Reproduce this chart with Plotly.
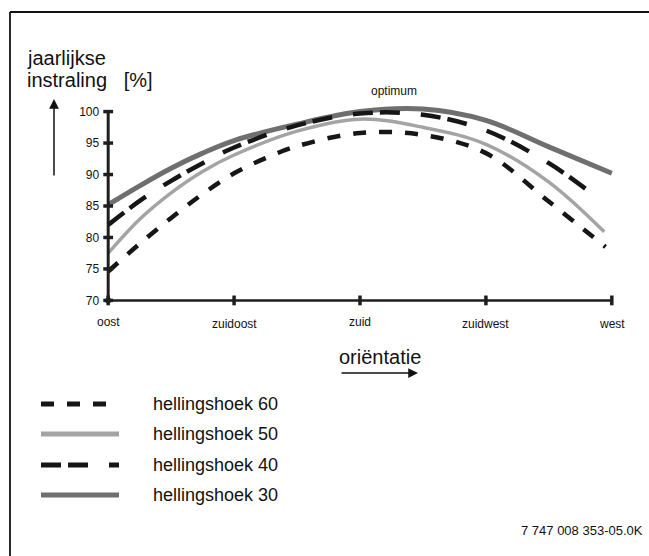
import plotly.graph_objects as go

# ---------------- data ----------------
directions = ["oost", "zuidoost", "zuid", "zuidwest", "west"]
dir_pos = [0, 1, 2, 3, 4]
y_ticks = [70, 75, 80, 85, 90, 95, 100]

x_h60 = [0, 0.25, 0.5, 0.75, 1, 1.25, 1.5, 2, 2.5, 3, 3.5, 3.95]
y_h60 = [74.6, 79.0, 83.1, 86.9, 90.2, 92.6, 94.5, 96.6, 96.3, 93.4, 85.7, 78.5]

x_h50 = [0, 0.25, 0.5, 0.75, 1, 1.5, 2, 2.5, 3, 3.5, 3.94]
y_h50 = [77.5, 82.9, 87.1, 90.5, 93.1, 96.9, 98.8, 97.5, 94.8, 88.8, 80.9]

x_h40 = [0, 0.25, 0.5, 0.75, 1, 1.5, 2, 2.5, 3, 3.5, 3.84]
y_h40 = [82.0, 85.8, 89.0, 91.8, 94.3, 97.8, 99.7, 99.5, 97.0, 91.8, 87.0]

x_h30 = [0, 0.25, 0.5, 0.75, 1, 1.5, 2, 2.5, 3, 3.5, 4]
y_h30 = [85.2, 88.2, 91.0, 93.4, 95.4, 98.0, 100.0, 100.4, 98.6, 94.4, 90.2]

legend_names = ["hellingshoek 60", "hellingshoek 50", "hellingshoek 40", "hellingshoek 30"]

# ---------------- layout geometry ----------------
W, H = 649, 556
ML, MR, MT, MB = 83, 12, 99, 243
XR = [-0.2, 4.2]
YR = [68, 102]
PW, PH = W - ML - MR, H - MT - MB
FONT = "Liberation Sans, Arial, Helvetica, sans-serif"


def px(x):
    return (x - ML) / PW


def py(y):
    return (H - MB - y) / PH


BLACK = "#161616"
LIGHT = "#a4a4a4"
DARK = "#6f6f6f"

styles = {
    "hellingshoek 60": dict(color=BLACK, width=4.5, dash="13px,13px"),
    "hellingshoek 50": dict(color=LIGHT, width=3.5, dash="solid"),
    "hellingshoek 40": dict(color=BLACK, width=4.5, dash="20px,7px,20px,21px"),
    "hellingshoek 30": dict(color=DARK, width=5, dash="solid"),
}

fig = go.Figure()

series = {
    "hellingshoek 30": (x_h30, y_h30),
    "hellingshoek 50": (x_h50, y_h50),
    "hellingshoek 40": (x_h40, y_h40),
    "hellingshoek 60": (x_h60, y_h60),
}
for name, (xs, ys) in series.items():
    fig.add_trace(go.Scatter(
        x=xs, y=ys, mode="lines", name=name, showlegend=False,
        line=dict(shape="spline", smoothing=1.0, **styles[name]),
        hoverinfo="skip",
    ))

# axis lines (data coordinates)
fig.add_shape(type="line", xref="x", yref="y", x0=0, x1=0, y0=min(y_ticks), y1=max(y_ticks),
              line=dict(color="#1e1e1e", width=3))
fig.add_shape(type="line", xref="x", yref="y", x0=min(dir_pos), x1=max(dir_pos), y0=min(y_ticks), y1=min(y_ticks),
              line=dict(color="#1e1e1e", width=2.5))

# tick marks
fig.add_trace(go.Scatter(
    x=[0] * len(y_ticks), y=y_ticks, mode="markers", showlegend=False, hoverinfo="skip",
    marker=dict(symbol="line-ew", size=7, line=dict(color="#1e1e1e", width=3.5)), cliponaxis=False))
fig.add_trace(go.Scatter(
    x=dir_pos, y=[min(y_ticks)] * len(dir_pos), mode="markers", showlegend=False, hoverinfo="skip",
    marker=dict(symbol="line-ns", size=7, line=dict(color="#1e1e1e", width=3.5)), cliponaxis=False))
fig.add_trace(go.Scatter(
    x=[0], y=[min(y_ticks)], mode="markers", showlegend=False, hoverinfo="skip",
    marker=dict(symbol="circle", size=6, color="#1e1e1e"), cliponaxis=False))

annotations = []
# x category labels (staggered as in the reference)
label_shift = [-13, -15, -13, -15, -15]
for pos, lab, sh in zip(dir_pos, directions, label_shift):
    annotations.append(dict(x=pos, y=min(y_ticks), xref="x", yref="y", text=lab, showarrow=False,
                            yanchor="top", xanchor="center", yshift=sh,
                            font=dict(family=FONT, size=12, color="#111")))

# y axis title
annotations.append(dict(x=px(25), y=py(58), xref="paper", yref="paper", text="jaarlijkse",
                        showarrow=False, xanchor="left", yanchor="middle",
                        font=dict(family=FONT, size=20, color="#111")))
annotations.append(dict(x=px(25), y=py(80), xref="paper", yref="paper", text="instraling&nbsp;&nbsp; [%]",
                        showarrow=False, xanchor="left", yanchor="middle",
                        font=dict(family=FONT, size=20, color="#111")))
# up arrow
annotations.append(dict(x=px(54), y=py(99), ax=0, ay=78, xref="paper", yref="paper",
                        axref="pixel", ayref="pixel", text="", showarrow=True,
                        arrowhead=2, arrowsize=1.3, arrowwidth=1.5, arrowcolor="#111"))
# optimum
annotations.append(dict(x=px(394), y=py(91), xref="paper", yref="paper", text="optimum",
                        showarrow=False, xanchor="center", yanchor="middle",
                        font=dict(family=FONT, size=12, color="#111")))
# orientation label and arrow
annotations.append(dict(x=px(380), y=py(357), xref="paper", yref="paper", text="oriëntatie",
                        showarrow=False, xanchor="center", yanchor="middle",
                        font=dict(family=FONT, size=20, color="#111")))
annotations.append(dict(x=px(418), y=py(373), ax=-78, ay=0, xref="paper", yref="paper",
                        axref="pixel", ayref="pixel", text="", showarrow=True,
                        arrowhead=2, arrowsize=1.3, arrowwidth=1.5, arrowcolor="#111"))
# footer
annotations.append(dict(x=px(645), y=py(530), xref="paper", yref="paper", text="7 747 008 353-05.0K",
                        showarrow=False, xanchor="right", yanchor="middle",
                        font=dict(family=FONT, size=13, color="#111")))

# manual legend
leg_y = [404, 434, 465, 495]
for name, yy in zip(legend_names, leg_y):
    st = styles[name]
    fig.add_shape(type="line", xref="paper", yref="paper", x0=px(41), x1=px(119), y0=py(yy), y1=py(yy),
                  line=dict(color=st["color"], width=5, dash=st["dash"]))
    annotations.append(dict(x=px(151), y=py(yy), xref="paper", yref="paper", text=name, showarrow=False,
                            xanchor="left", yanchor="middle",
                            font=dict(family=FONT, size=18, color="#111")))

# frame
fig.add_shape(type="line", xref="paper", yref="paper", x0=px(10), x1=px(652), y0=py(12), y1=py(12),
              line=dict(color="#111", width=1.8))
fig.add_shape(type="line", xref="paper", yref="paper", x0=px(10), x1=px(10), y0=py(12), y1=py(560),
              line=dict(color="#111", width=1.8))

fig.update_layout(
    width=W, height=H,
    margin=dict(l=ML, r=MR, t=MT, b=MB, pad=0),
    paper_bgcolor="white", plot_bgcolor="white",
    showlegend=False,
    annotations=annotations,
    xaxis=dict(range=XR, showgrid=False, zeroline=False, showline=False, showticklabels=False,
               ticks="", fixedrange=True),
    yaxis=dict(range=YR, showgrid=False, zeroline=False, showline=False, tickvals=y_ticks,
               ticktext=[str(v) for v in y_ticks], ticks="", anchor="free",
               position=(0 - XR[0]) / (XR[1] - XR[0]), ticklabelstandoff=9,
               tickfont=dict(family=FONT, size=12, color="#111"), fixedrange=True),
)

fig.write_html("out.html", config={"displayModeBar": False},
               post_script="document.body.style.margin='0px';document.body.style.overflow='hidden';")
